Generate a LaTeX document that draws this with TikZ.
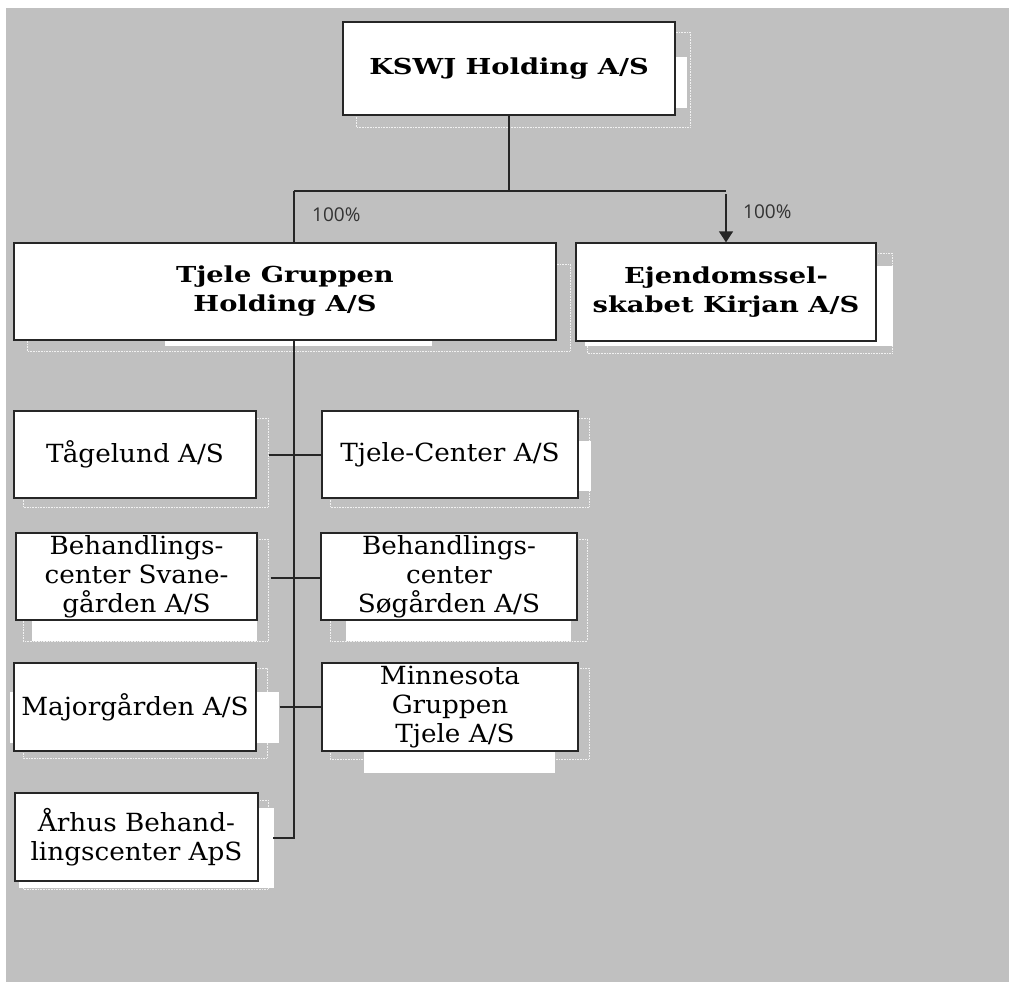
\documentclass[tikz,border=0pt]{standalone}
\usepackage{fontspec}
\setmainfont{DejaVu Serif}[FakeStretch=1.05]
\newfontfamily\headfont{DejaVu Serif}[FakeStretch=1.24]
\newfontfamily\pctfont{Open Sans}
\usetikzlibrary{arrows.meta}
\definecolor{bggray}{RGB}{192,192,192}
\tikzset{
  firm/.style={draw=black!85, line width=1.3pt, fill=white, align=center,
    inner sep=0pt, font=\fontsize{25}{29}\selectfont},
  headfirm/.style={firm, font=\headfont\bfseries\fontsize{22}{29}\selectfont},
  ghost/.style={draw=white!80!bggray, densely dotted, line width=0.6pt},
  patch/.style={fill=white},
  link/.style={draw=black!85, line width=1.4pt},
  pct/.style={font=\pctfont\fontsize{19}{22}\selectfont, text=black!80, inner sep=0pt}
}
\begin{document}
\begin{tikzpicture}[x=1pt, y=-1pt]
    \useasboundingbox (0,0) rectangle (1009,982);
    \fill[bggray] (6,8) rectangle (1009,982);

    % shadows left over behind the boxes
    \draw[ghost] (356,32) rectangle (690,127);
    \fill[patch] (675,57) rectangle (687,108);
    \draw[ghost] (27,264) rectangle (570,351);
    \fill[patch] (165,340) rectangle (432,346);
    \draw[ghost] (587,253) rectangle (892,353);
    \fill[patch] (585,266) rectangle (893,346);
    \draw[ghost] (23,418) rectangle (268,507);
    \draw[ghost] (330,418) rectangle (589,507);
    \fill[patch] (578,441) rectangle (591,491);
    \draw[ghost] (23,539) rectangle (268,641);
    \fill[patch] (32,620) rectangle (257,641);
    \draw[ghost] (330,539) rectangle (587,641);
    \fill[patch] (346,620) rectangle (571,641);
    \draw[ghost] (23,668) rectangle (267,758);
    \fill[patch] (10,692) rectangle (279,743);
    \draw[ghost] (330,668) rectangle (589,759);
    \fill[patch] (364,700) rectangle (555,773);
    \draw[ghost] (23,800) rectangle (268,889);
    \fill[patch] (19,808) rectangle (274,888);

    % companies
    \node[headfirm, minimum width=332pt, minimum height=93pt] (kswj) at (509,68.5) {KSWJ Holding A/S};
    \node[headfirm, minimum width=542pt, minimum height=97pt] (tjele) at (285,291.5) {Tjele Gruppen\\Holding A/S};
    \node[headfirm, minimum width=300pt, minimum height=98pt] (ejendom) at (726,292) {Ejendomssel-\\skabet Kirjan A/S};

    \node[firm, minimum width=242pt, minimum height=87pt] (tagelund) at (135,454.5) {Tågelund A/S};
    \node[firm, minimum width=256pt, minimum height=87pt] (center) at (450,454.5) {Tjele-Center A/S};
    \node[firm, minimum width=241pt, minimum height=87pt] (svane) at (136.5,576.5) {Behandlings-\\center Svane-\\gården A/S};
    \node[firm, minimum width=256pt, minimum height=87pt] (soegaarden) at (449,576.5) {Behandlings-\\center\\Søgården A/S};
    \node[firm, minimum width=242pt, minimum height=88pt] (major) at (135,707) {Majorgården A/S};
    \node[firm, minimum width=256pt, minimum height=88pt] (minnesota) at (450,707) {Minnesota\\Gruppen\\\hspace{0.4em}Tjele A/S};
    \node[firm, minimum width=243pt, minimum height=88pt] (aarhus) at (136.5,837) {Århus Behand-\\lingscenter ApS};

    % ownership lines
    \coordinate (busL) at (294,191);
    \coordinate (busR) at (726,191);
    \coordinate (trunk) at (294,838);
    \draw[link] (kswj.south) -- (kswj.south |- busL);
    \draw[link] (busL) -- (busR);
    \draw[link] (busL) -- (busL |- tjele.north);
    \draw[link, -{Triangle[width=14pt, length=11pt]}] ([yshift=-3pt]busR) -- (ejendom.north);
    \node[pct, anchor=west] (pctL) at (312,215) {100\%};
    \node[pct, anchor=west] (pctR) at (743,212) {100\%};

    \draw[link] (tjele.south -| trunk) -- (trunk) -- ([xshift=14pt]aarhus.east |- trunk);
    \draw[link] ([xshift=12pt]tagelund.east |- 0,455) -- (center.west |- 0,455);
    \draw[link] ([xshift=13pt]svane.east |- 0,578) -- (soegaarden.west |- 0,578);
    \draw[link] ([xshift=23pt]major.east) -- (minnesota.west);
\end{tikzpicture}
\end{document}
